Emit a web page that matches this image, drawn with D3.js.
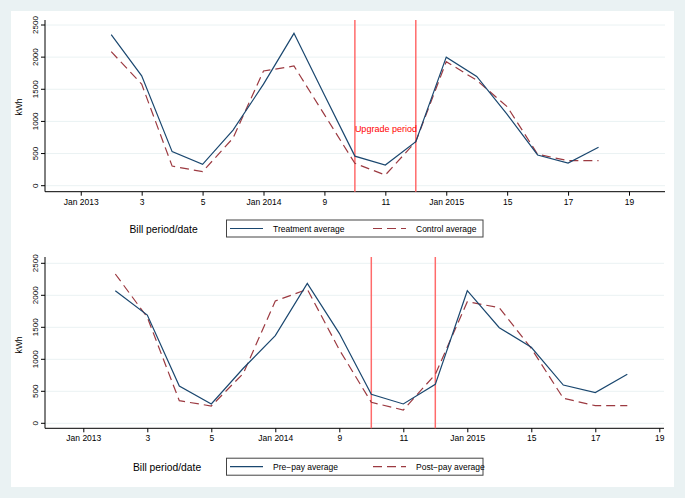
<!DOCTYPE html>
<html><head><meta charset="utf-8">
<script src="https://cdn.jsdelivr.net/npm/d3@7"></script>
<style>
html,body{margin:0;padding:0;background:#eaf2f3;}
svg{display:block;font-family:"Liberation Sans",Arial,Helvetica,sans-serif;}
</style></head>
<body><svg id="c" width="685" height="498"></svg>
<script>
// ---- data ----
const periods = [2,3,4,5,6,7,8,9,10,11,12,13,14,15,16,17,18];
const treatment = [2350,1710,530,333,865,1580,2370,1410,460,322,685,2000,1700,1110,478,353,597];
const control   = [2085,1580,305,218,740,1785,1862,1105,348,166,685,1930,1640,1230,489,389,389];
const prepay    = [2072,1692,583,302,860,1369,2187,1406,453,302,609,2072,1494,1187,598,479,765];
const postpay   = [2333,1656,353,270,780,1911,2094,1150,328,208,765,1900,1806,1170,391,275,275];
const xTicks = [1,3,5,7,9,11,13,15,17,19];
const xTickLabels = ["Jan 2013","3","5","Jan 2014","9","11","Jan 2015","15","17","19"];
const yTicks = [0,500,1000,1500,2000,2500];
const upgradeBounds = [10,12];
const topLegend = ["Treatment average","Control average"];
const bottomLegend = ["Pre\u2212pay average","Post\u2212pay average"];

const BLUE = "#1a476f", RED = "#9c3a41", VRED = "#ff6b6b";
const svg = d3.select("#c");
svg.append("rect").attr("x",0).attr("y",0).attr("width",685).attr("height",498).attr("fill","#eaf2f3");
svg.append("rect").attr("x",11).attr("y",11).attr("width",663).attr("height",476).attr("fill","#ffffff");

function panel(cfg){
  const g = svg.append("g");
  const x = d3.scaleLinear().domain([0,19]).range(cfg.xr);
  const y = d3.scaleLinear().domain([0,2500]).range(cfg.yr);
  // grid
  g.selectAll(".grid").data(yTicks).enter().append("line")
    .attr("x1",45).attr("x2",cfg.axRight).attr("y1",d=>y(d)).attr("y2",d=>y(d))
    .attr("stroke","#eaf2f3").attr("stroke-width",1);
  // y axis
  const ya = g.append("g").attr("transform","translate(45,0)")
    .call(d3.axisLeft(y).tickValues(yTicks).tickSize(4).tickPadding(4).tickFormat(d3.format("d")));
  ya.select(".domain").remove();
  ya.append("line").attr("x1",0).attr("x2",0).attr("y1",cfg.axTop).attr("y2",cfg.axY).attr("stroke","#000").attr("stroke-width",1);
  ya.selectAll(".tick line").attr("stroke","#000");
  ya.selectAll(".tick text").attr("font-size",8).attr("fill","#000")
    .attr("text-anchor","middle").attr("transform","rotate(-90)").attr("dy","0");
  ya.selectAll(".tick text").each(function(d){ d3.select(this).attr("x",-y(d)).attr("y",-7); });
  ya.selectAll(".tick").attr("transform","translate(0,0)");
  ya.selectAll(".tick line").attr("y1",d=>y(d)).attr("y2",d=>y(d)).attr("x2",-4);
  // x axis
  const xa = g.append("g").attr("transform",`translate(0,${cfg.axY})`)
    .call(d3.axisBottom(x).tickValues(xTicks).tickSize(4).tickPadding(3).tickFormat((d,i)=>xTickLabels[i]));
  xa.select(".domain").remove();
  xa.append("line").attr("x1",45).attr("x2",cfg.axRight).attr("y1",0).attr("y2",0).attr("stroke","#000").attr("stroke-width",1);
  xa.selectAll(".tick line").attr("stroke","#000");
  xa.selectAll(".tick text").attr("font-size",8.5).attr("fill","#000");
  // vertical upgrade lines
  g.selectAll(".vl").data(upgradeBounds).enter().append("line")
    .attr("x1",d=>x(d)).attr("x2",d=>x(d)).attr("y1",cfg.axTop).attr("y2",cfg.axY)
    .attr("stroke",VRED).attr("stroke-width",1.5);
  if(cfg.label){
    g.append("text").attr("x",x(upgradeBounds[0])).attr("y",cfg.labelY).attr("font-size",9)
      .attr("fill","#ff0000").text(cfg.label);
  }
  const line = d3.line().x((d,i)=>x(periods[i])).y(d=>y(d));
  g.append("path").datum(cfg.s2).attr("d",line).attr("fill","none").attr("stroke",RED)
    .attr("stroke-width",1.2).attr("stroke-dasharray","9,5");
  g.append("path").datum(cfg.s1).attr("d",line).attr("fill","none").attr("stroke",BLUE)
    .attr("stroke-width",1.2);
  // y title
  g.append("text").attr("transform",`translate(22,${cfg.ytitleY}) rotate(-90)`).attr("text-anchor","middle")
    .attr("font-size",8.5).attr("fill","#000").text("kWh");
  // x title
  g.append("text").attr("x",cfg.xtitleX).attr("y",cfg.legY+4).attr("font-size",10.3).attr("fill","#000").text("Bill period/date");
  // legend
  const lg = g.append("g");
  lg.append("rect").attr("x",226.5).attr("y",cfg.legY-8.5).attr("width",256.5).attr("height",17)
    .attr("fill","#fff").attr("stroke","#444").attr("stroke-width",1);
  lg.append("line").attr("x1",230).attr("x2",263).attr("y1",cfg.legY).attr("y2",cfg.legY).attr("stroke",BLUE).attr("stroke-width",1.2);
  lg.append("text").attr("x",273).attr("y",cfg.legY+3).attr("font-size",8.5).attr("fill","#000").text(cfg.leg[0]);
  lg.append("line").attr("x1",373).attr("x2",406).attr("y1",cfg.legY).attr("y2",cfg.legY).attr("stroke",RED).attr("stroke-width",1.2).attr("stroke-dasharray","9,5");
  lg.append("text").attr("x",416).attr("y",cfg.legY+3).attr("font-size",8.5).attr("fill","#000").text(cfg.leg[1]);
}

panel({xr:[50.3,629], yr:[185.7,25], axTop:20, axY:191.7, axRight:665,
  s1:treatment, s2:control, label:"Upgrade period", labelY:132,
  ytitleY:107, xtitleX:129.5, legY:228.5, leg:topLegend});
panel({xr:[51.3,659.3], yr:[423.3,263.3], axTop:257, axY:428.3, axRight:664,
  s1:prepay, s2:postpay, label:null,
  ytitleY:345, xtitleX:133, legY:466.7, leg:bottomLegend});
</script></body></html>
